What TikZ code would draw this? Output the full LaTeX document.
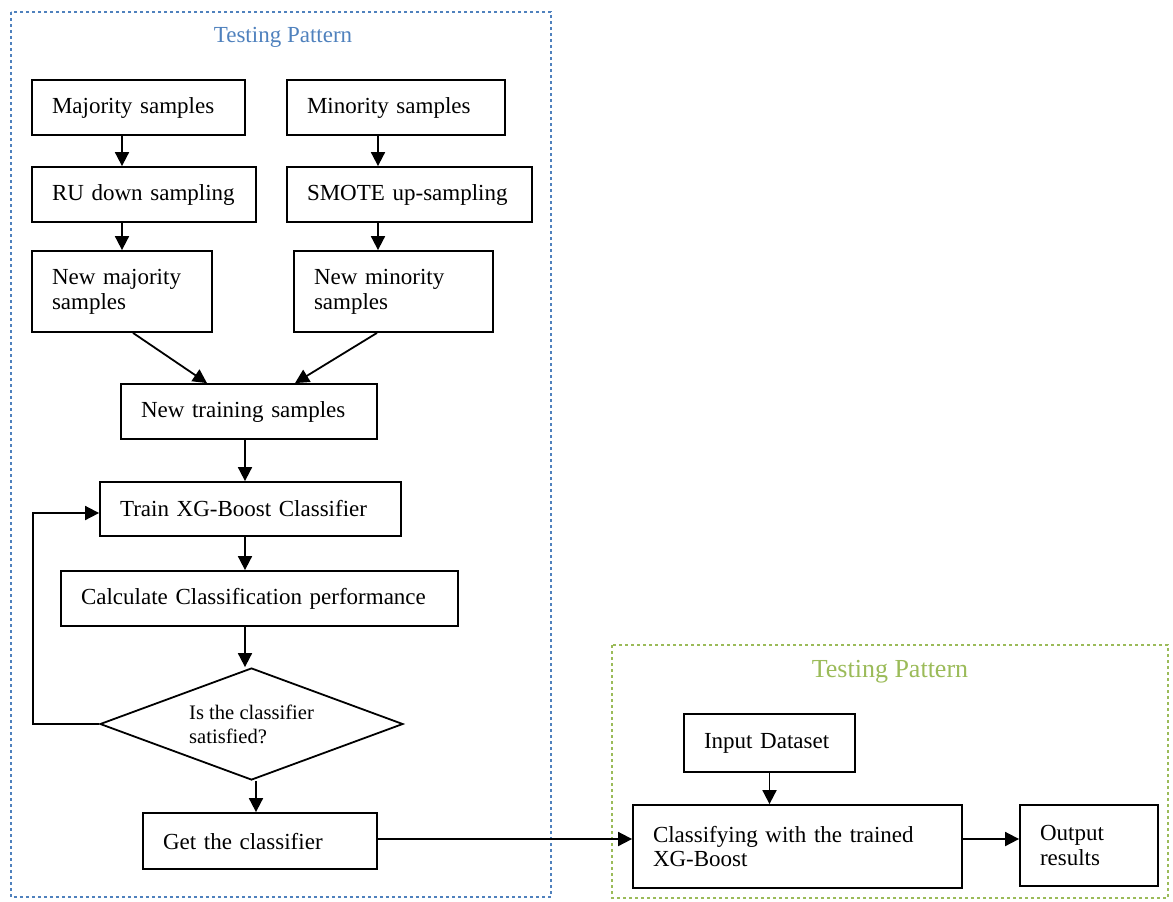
\documentclass[tikz,border=0pt]{standalone}
\usepackage{fontspec}
\setmainfont{Liberation Serif}
\usetikzlibrary{arrows.meta,shapes.geometric}
\definecolor{trainblue}{RGB}{79,129,189}
\definecolor{testgreen}{RGB}{155,187,89}

\tikzset{
  box/.style={draw=black, inner xsep=10pt, inner ysep=0pt, align=left,
    font=\fontsize{11.5}{12.5}\selectfont},
  decision/.style={diamond, aspect=2.7, draw=black, minimum width=151.5pt, minimum height=56pt,
    inner sep=0pt, align=left, font=\fontsize{10.3}{12}\selectfont},
  zone/.style={-, line width=1.4pt, dash pattern=on 1.4pt off 1.6pt},
}

\begin{document}
\begin{tikzpicture}[->,>={Triangle[length=7pt,width=7pt]},line width=0.9pt,
        x=0.5pt,y=-0.5pt]
    \useasboundingbox (0,0) rectangle (1173,901);

    \draw[zone,trainblue] (11,12) rectangle (551,897);
    \draw[zone,testgreen] (612,645) rectangle (1168,898);
    \node[text=trainblue,font=\fontsize{11.5}{13}\selectfont] (ttrain) at (283,37) {Testing Pattern};
    \node[text=testgreen,font=\fontsize{13}{15}\selectfont] (ttest) at (890,672) {Testing Pattern};

    \node[box,text width=86.5pt,minimum height=27.5pt] (maj) at (138.5,107.5) {Majority samples};
    \node[box,text width=89pt,minimum height=27.5pt] (mino) at (396,107.5) {Minority samples};
    \node[box,text width=92pt,minimum height=27.5pt] (ru) at (144,194.5) {RU down sampling};
    \node[box,text width=102.5pt,minimum height=27.5pt] (smote) at (409.5,194.5) {SMOTE up-sampling};
    \node[box,text width=70pt,minimum height=40.5pt] (newmaj) at (122,291.5) {New majority\\samples};
    \node[box,text width=79.5pt,minimum height=40.5pt] (newmin) at (393.5,291.5) {New minority\\samples};
    \node[box,text width=108pt,minimum height=27.5pt] (newtrain) at (249,411.5) {New training samples};
    \node[box,text width=130.5pt,minimum height=27pt] (train) at (250.5,509) {Train XG-Boost Classifier};
    \node[box,text width=178.5pt,minimum height=27.5pt] (calc) at (259.5,598.5) {Calculate Classification performance};
    \node[decision] (sat) at (251.5,724) {Is the classifier\\satisfied?};
    \node[box,text width=97pt,minimum height=28pt] (get) at (260,841) {Get the classifier};

    \node[box,text width=65.5pt,minimum height=29pt] (input) at (769.5,743) {Input Dataset};
    \node[box,text width=144.5pt,minimum height=41.5pt] (cls) at (797.5,846.5) {Classifying with the trained\\XG-Boost};
    \node[box,text width=49pt,minimum height=40.5pt] (out) at (1089,845.5) {Output\\results};

    \coordinate (colA) at (122,0);
    \coordinate (colB) at (378,0);
    \coordinate (colC) at (245,0);
    \coordinate (colD) at (256,0);
    \coordinate (rowE) at (0,839);
    \coordinate (fb) at (33,724);

    \path (maj.south -| colA) edge (ru.north -| colA)
        (ru.south -| colA) edge (newmaj.north -| colA)
        (mino.south -| colB) edge (smote.north -| colB)
        (smote.south -| colB) edge (newmin.north -| colB)
        ([xshift=5.5pt]newmaj.south) edge ([xshift=-21pt]newtrain.north)
        ([xshift=-8.25pt]newmin.south) edge ([xshift=23pt]newtrain.north)
        (newtrain.south -| colC) edge (train.north -| colC)
        (train.south -| colC) edge (calc.north -| colC)
        (calc.south -| colC) edge (sat.north -| colC)
        (sat.south -| colD) edge (get.north -| colD)
        (get.east |- rowE) edge (cls.west |- rowE)
        (input.south) edge (input.south |- cls.north)
        (cls.east |- rowE) edge (out.west |- rowE);
    \draw (sat.west) -- (fb) |- ([yshift=-2pt]train.west);

\end{tikzpicture}
\end{document}
